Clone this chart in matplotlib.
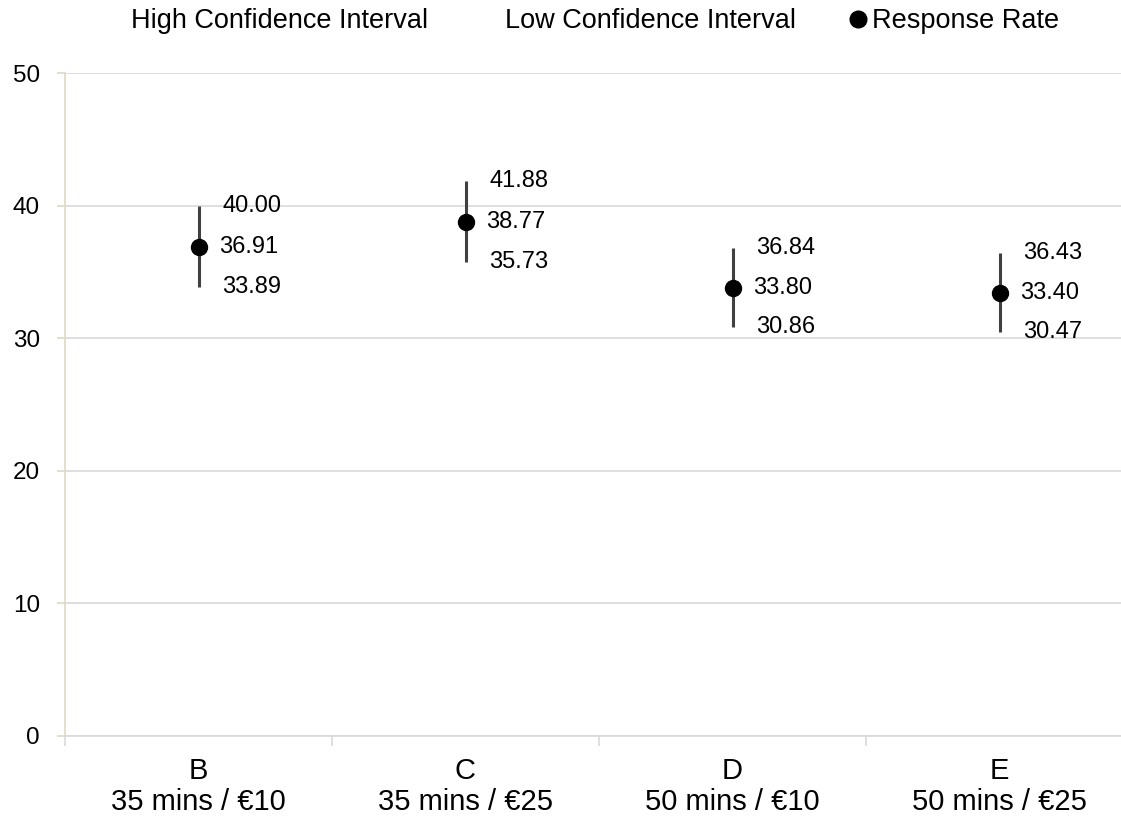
import matplotlib.pyplot as plt
from matplotlib.lines import Line2D

plt.rcParams['font.family'] = ['Liberation Sans', 'DejaVu Sans']

# Data
categories = ["B\n35 mins / €10", "C\n35 mins / €25", "D\n50 mins / €10", "E\n50 mins / €25"]
high_ci = [40.00, 41.88, 36.84, 36.43]
low_ci = [33.89, 35.73, 30.86, 30.47]
response_rate = [36.91, 38.77, 33.80, 33.40]

W, H = 1121, 816
fig = plt.figure(figsize=(W / 100, H / 100), dpi=100)
ax = fig.add_axes([65 / W, 1 - 736 / H, 1068 / W, 663 / H])

x = list(range(len(categories)))

# high-low lines
ax.vlines(x, low_ci, high_ci, color='#404040', linewidth=2.2, zorder=3)
ax.plot(x, response_rate, linestyle='none', marker='o', markersize=11.5,
        color='black', zorder=4)

# data labels
for i in x:
    ax.annotate(f"{high_ci[i]:.2f}", (i, high_ci[i]), xytext=(24, 0),
                textcoords='offset pixels', va='center', ha='left', fontsize=17)
    ax.annotate(f"{response_rate[i]:.2f}", (i, response_rate[i]), xytext=(21, 0),
                textcoords='offset pixels', va='center', ha='left', fontsize=17)
    ax.annotate(f"{low_ci[i]:.2f}", (i, low_ci[i]), xytext=(24, 0),
                textcoords='offset pixels', va='center', ha='left', fontsize=17)

ax.set_xlim(-0.5, 3.5)
ax.set_ylim(0, 50)
ax.set_yticks(range(0, 51, 10))
ax.yaxis.grid(True, color='#d9d9d9', linewidth=1.2)
ax.set_axisbelow(True)

ax.set_xticks(x)
ax.set_xticklabels(categories, fontsize=21, linespacing=1.13)
ax.set_xticks([-0.5, 0.5, 1.5, 2.5], minor=True)
ax.tick_params(axis='x', which='major', length=0, pad=15)
ax.tick_params(axis='x', which='minor', length=7, color='#d9d9d9', width=1.2)
ax.tick_params(axis='y', length=6, color='#ddd9c3', width=1.2, labelsize=17.5, pad=12)

for s in ['top', 'right']:
    ax.spines[s].set_visible(False)
ax.spines['left'].set_color('#ddd9c3')
ax.spines['left'].set_linewidth(1.2)
ax.spines['bottom'].set_color('#d9d9d9')
ax.spines['bottom'].set_linewidth(1.2)

handles = [Line2D([], [], linestyle='none'),
           Line2D([], [], linestyle='none'),
           Line2D([], [], linestyle='none', marker='o', color='black', markersize=12)]
labels = ["High Confidence Interval", "Low Confidence Interval", "Response Rate"]
fig.legend(handles, labels, loc='center', bbox_to_anchor=(0.521, 1 - 21 / H), ncol=3,
           frameon=False, fontsize=19.5, handlelength=0.6, handletextpad=0.22,
           columnspacing=2.0, borderpad=0, borderaxespad=0)

fig.savefig('out.png', dpi=100)
